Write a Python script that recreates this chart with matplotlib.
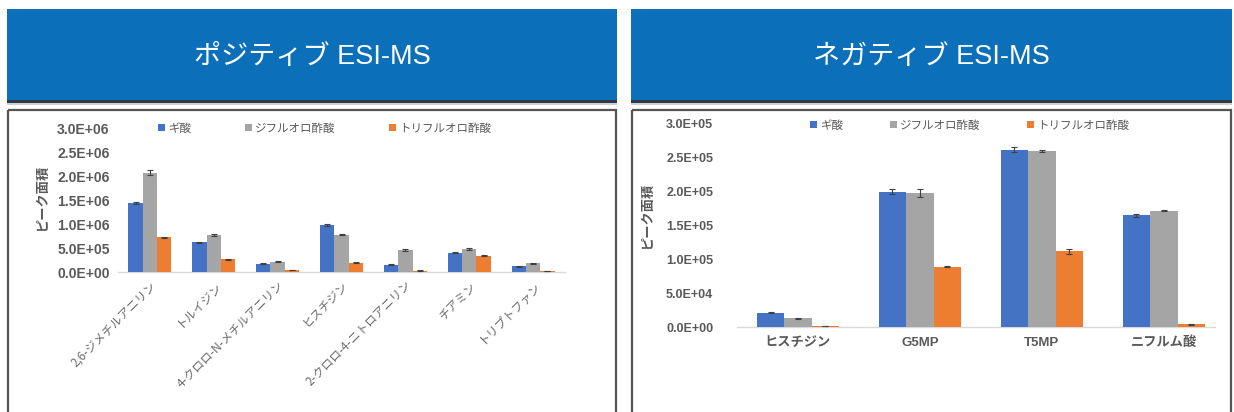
import matplotlib
matplotlib.use("Agg")
import matplotlib.pyplot as plt
import matplotlib.patches as mpatches
import numpy as np

plt.rcParams['font.family'] = ['Liberation Sans', 'Noto Sans CJK JP', 'DejaVu Sans']

# ---------------- data ----------------
series_names = ["ギ酸", "ジフルオロ酢酸", "トリフルオロ酢酸"]
series_colors = ["#4472C4", "#A5A5A5", "#ED7D31"]

pos_title = "ポジティブ ESI-MS"
pos_categories = ["2,6-ジメチルアニリン", "トルイジン", "4-クロロ-N-メチルアニリン", "ヒスチジン",
                  "2-クロロ-4-ニトロアニリン", "チアミン", "トリプトファン"]
pos_formic = [1.43e6, 0.62e6, 0.17e6, 0.98e6, 0.15e6, 0.40e6, 0.12e6]
pos_dfa = [2.07e6, 0.78e6, 0.21e6, 0.78e6, 0.45e6, 0.48e6, 0.18e6]
pos_tfa = [0.72e6, 0.27e6, 0.04e6, 0.19e6, 0.03e6, 0.34e6, 0.02e6]
pos_formic_err = [0.02e6, 0.01e6, 0.01e6, 0.02e6, 0.01e6, 0.01e6, 0.01e6]
pos_dfa_err = [0.05e6, 0.02e6, 0.01e6, 0.01e6, 0.02e6, 0.02e6, 0.01e6]
pos_tfa_err = [0.01e6, 0.01e6, 0.005e6, 0.01e6, 0.005e6, 0.01e6, 0.005e6]
pos_yticks = [0, 0.5e6, 1.0e6, 1.5e6, 2.0e6, 2.5e6, 3.0e6]
pos_yticklabels = ["0.0E+00", "5.0E+05", "1.0E+06", "1.5E+06", "2.0E+06", "2.5E+06", "3.0E+06"]

neg_title = "ネガティブ ESI-MS"
neg_categories = ["ヒスチジン", "G5MP", "T5MP", "ニフルム酸"]
neg_formic = [2.1e4, 2.00e5, 2.62e5, 1.65e5]
neg_dfa = [1.3e4, 1.98e5, 2.60e5, 1.72e5]
neg_tfa = [1.0e3, 0.89e5, 1.12e5, 4.0e3]
neg_formic_err = [1e3, 4e3, 4e3, 2e3]
neg_dfa_err = [1e3, 6e3, 2e3, 1e3]
neg_tfa_err = [2e2, 1e3, 4e3, 5e2]
neg_yticks = [0, 5e4, 1e5, 1.5e5, 2e5, 2.5e5, 3e5]
neg_yticklabels = ["0.0E+00", "5.0E+04", "1.0E+05", "1.5E+05", "2.0E+05", "2.5E+05", "3.0E+05"]

ylabel = "ピーク面積"

W, H = 1234, 412
fig = plt.figure(figsize=(W / 100, H / 100), dpi=100)
fig.patch.set_facecolor("white")

def px(x0, y0, x1, y1):
    return [x0 / W, 1 - y1 / H, (x1 - x0) / W, (y1 - y0) / H]

# ---------- headers and frames ----------
bg = fig.add_axes([0, 0, 1, 1], zorder=-5)
bg.set_xlim(0, W); bg.set_ylim(H, 0); bg.axis("off")
for (x0, x1, title) in [(7, 617, pos_title), (631, 1232, neg_title)]:
    bg.add_patch(mpatches.Rectangle((x0, 103), x1 - x0, 2, color="#D0D0D0", lw=0))
    bg.add_patch(mpatches.Rectangle((x0, 100), x1 - x0, 2.5, color="#2F3B45", lw=0))
    bg.add_patch(mpatches.Rectangle((x0, 9), x1 - x0, 91, color="#0B70B9", lw=0))
    bg.text((x0 + x1) / 2, 57, title, color="white", fontsize=19.5, ha="center", va="center",
            family=["Liberation Sans", "Noto Sans CJK JP"])
    bg.add_patch(mpatches.Rectangle((x0 + 1, 110), x1 - x0 - 2, 320, fill=False,
                                    ec="#555555", lw=1.6))

tick_color = "#595959"

def draw(ax, cats, vals, errs, yticks, yticklabels, ymax, yfs):
    n = len(cats)
    x = np.arange(n)
    w = 0.225
    for i, (v, e) in enumerate(zip(vals, errs)):
        ax.bar(x + (i - 1) * w, v, w, color=series_colors[i], yerr=e,
               error_kw=dict(ecolor="#404040", elinewidth=0.8, capsize=2.5, capthick=0.8),
               label=series_names[i], zorder=3)
    ax.set_ylim(0, ymax)
    ax.set_yticks(yticks)
    ax.set_yticklabels(yticklabels, fontsize=yfs, fontweight="bold", color=tick_color)
    for s in ["top", "right", "left"]:
        ax.spines[s].set_visible(False)
    ax.spines["bottom"].set_color("#D9D9D9")
    ax.spines["bottom"].set_linewidth(1)
    ax.tick_params(axis="both", length=0)
    ax.set_facecolor("none")
    return x

# ---------- left chart ----------
axL = fig.add_axes(px(118, 128, 565, 272))
x = draw(axL, pos_categories, [pos_formic, pos_dfa, pos_tfa],
         [pos_formic_err, pos_dfa_err, pos_tfa_err], pos_yticks, pos_yticklabels, 3.0e6, 10)
axL.set_xlim(-0.5, len(pos_categories) - 0.5)
axL.set_xticks(x)
axL.set_xticklabels(pos_categories, rotation=45, ha="right", rotation_mode="anchor",
                    fontsize=8.5, color="#6A6A6A", family=["Noto Sans CJK JP"])
axL.tick_params(axis="x", pad=5)
axL.tick_params(axis="y", pad=6)
fig.text(42 / W, 1 - 197 / H, ylabel, rotation=90, ha="center", va="center", fontsize=9.5,
         fontweight="bold", color=tick_color, family=["Noto Sans CJK JP"])
legL = axL.legend(loc="center left", bbox_to_anchor=(148 / W, 1 - 128 / H),
                  bbox_transform=fig.transFigure, ncol=3, frameon=False,
                  handlelength=0.6, handleheight=0.6, handletextpad=0.3,
                  columnspacing=4.6, prop={"family": "Noto Sans CJK JP", "size": 8.3})
for t in legL.get_texts():
    t.set_color(tick_color)

# ---------- right chart ----------
axR = fig.add_axes(px(737, 124, 1215, 327))
x = draw(axR, neg_categories, [neg_formic, neg_dfa, neg_tfa],
         [neg_formic_err, neg_dfa_err, neg_tfa_err], neg_yticks, neg_yticklabels, 3.0e5, 9)
axR.set_xlim(-0.5, 3.42)
axR.set_xticks(x)
axR.set_xticklabels(neg_categories, fontsize=9.5, fontweight="bold", color=tick_color,
                    family=["Liberation Sans", "Noto Sans CJK JP"])
axR.tick_params(axis="x", pad=7)
axR.tick_params(axis="y", pad=17)
fig.text(647 / W, 1 - 215 / H, ylabel, rotation=90, ha="center", va="center", fontsize=9.5,
         fontweight="bold", color=tick_color, family=["Noto Sans CJK JP"])
legR = axR.legend(loc="center left", bbox_to_anchor=(800 / W, 1 - 125 / H),
                  bbox_transform=fig.transFigure, ncol=3, frameon=False,
                  handlelength=0.6, handleheight=0.6, handletextpad=0.3,
                  columnspacing=4.0, prop={"family": "Noto Sans CJK JP", "size": 8.3})
for t in legR.get_texts():
    t.set_color(tick_color)

fig.savefig("out.png", dpi=100, facecolor="white")
